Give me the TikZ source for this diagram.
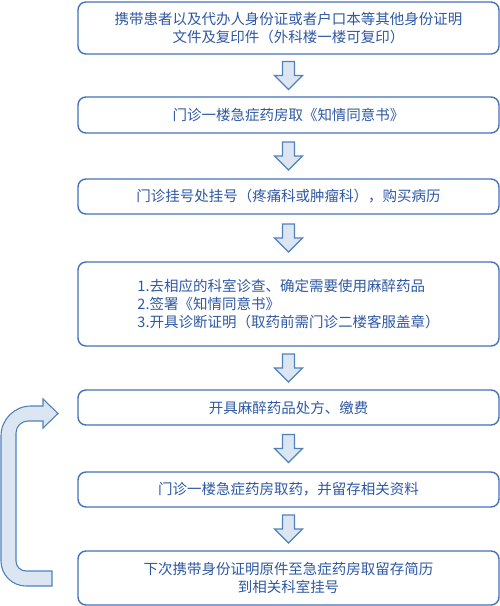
\documentclass[tikz,border=0pt]{standalone}
\usepackage{fontspec}
\newfontfamily\cjk{Noto Sans CJK SC}
\usepackage{tikz}
\usetikzlibrary{calc}

\definecolor{boxline}{RGB}{66,114,186}
\definecolor{boxtext}{RGB}{46,88,162}
\definecolor{arrowfill}{RGB}{220,230,242}
\definecolor{arrowline}{RGB}{79,129,189}

\tikzset{
stepbox/.style={draw=boxline, line width=1.4pt, rounded corners=8pt,
  minimum width=421pt, inner sep=0pt, text=boxtext, align=center,
  font=\cjk\fontsize{14.5pt}{18pt}\selectfont},
blockarrow/.style={draw=arrowline, fill=arrowfill, line width=1.1pt, line join=miter},
}

\newcommand{\flowarrow}[2]{%
\coordinate (mid) at ($(#1.south)!0.5!(#2.north)$);
\draw[blockarrow] (mid) ++(-6,-14) -- ++(12,0) -- ++(0,14) -- ++(8,0)
  -- ++(-14,14) -- ++(-14,-14) -- ++(8,0) -- cycle;}

\begin{document}
\begin{tikzpicture}[x=1pt, y=-1pt]
\useasboundingbox (0,0) rectangle (500,606);

\node[stepbox, minimum height=52pt] (b1) at (288.5,28)
  {携带患者以及代办人身份证或者户口本等其他身份证明\\文件及复印件（外科楼一楼可复印）};
\node[stepbox, minimum height=36pt] (b2) at (288.5,115)
  {门诊一楼急症药房取《知情同意书》};
\node[stepbox, minimum height=35pt] (b3) at (288.5,196.5)
  {门诊挂号处挂号（疼痛科或肿瘤科），购买病历};
\node[stepbox, minimum height=84pt, align=left] (b4) at (288.5,304)
  {1.去相应的科室诊查、确定需要使用麻醉药品\\2.签署《知情同意书》\\3.开具诊断证明（取药前需门诊二楼客服盖章）};
\node[stepbox, minimum height=35pt] (b5) at (288.5,407.5)
  {开具麻醉药品处方、缴费};
\node[stepbox, minimum height=35pt] (b6) at (288.5,489.5)
  {门诊一楼急症药房取药，并留存相关资料};
\node[stepbox, minimum height=54pt] (b7) at (288.5,578)
  {下次携带身份证明原件至急症药房取留存简历\\到相关科室挂号};

\foreach \a/\b in {b1/b2, b2/b3, b3/b4, b4/b5, b5/b6, b6/b7}
  \flowarrow{\a}{\b};

\draw[blockarrow] (52,571) -- (26,571) .. controls (20.5,571) and (16,566.5) .. (16,561)
  -- (16,433) .. controls (16,426.4) and (21.4,421) .. (28,421) -- (43,421) -- (43,428)
  -- (58,413.5) -- (43,399) -- (43,406) -- (31,406)
  .. controls (14.4,406) and (1,419.4) .. (1,436) -- (1,561)
  .. controls (1,574.8) and (12.2,586) .. (26,586) -- (52,586) -- cycle;
\end{tikzpicture}
\end{document}
